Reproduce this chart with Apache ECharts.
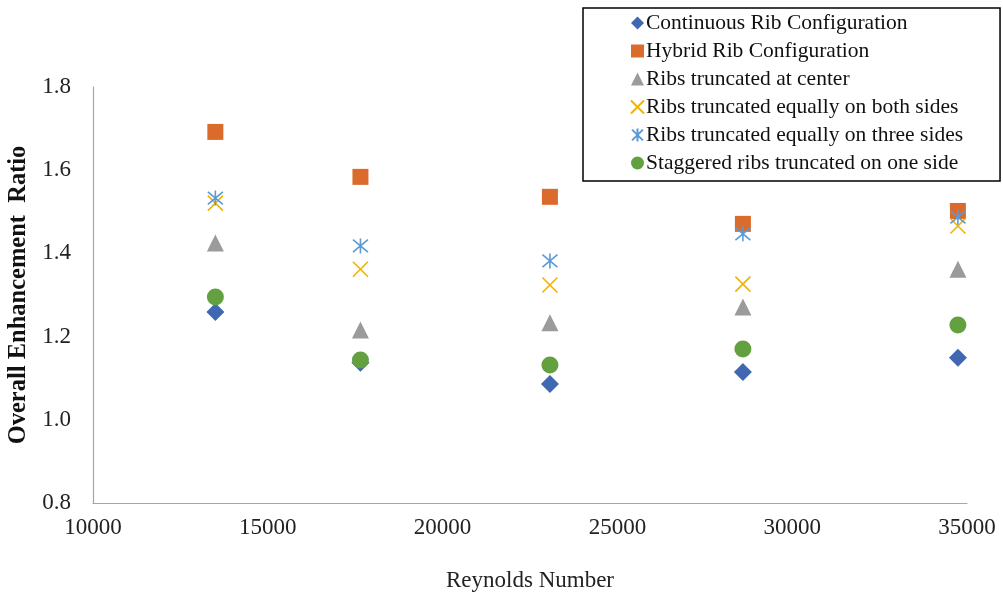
<!DOCTYPE html>
<html><head><meta charset="utf-8">
<script src="https://cdn.jsdelivr.net/npm/echarts@6/dist/echarts.min.js"></script>
<style>html,body{margin:0;padding:0;background:#fff}#c{width:1003px;height:593px}</style>
</head><body><div id="c"></div>
<script>
const reynolds = [13500, 17650, 23070, 28590, 34740];
const continuous = [1.259, 1.137, 1.086, 1.115, 1.149];
const hybrid = [1.692, 1.584, 1.536, 1.471, 1.502];
const truncCenter = [1.425, 1.216, 1.233, 1.271, 1.362];
const truncBoth = [1.521, 1.362, 1.324, 1.326, 1.466];
const truncThree = [1.533, 1.418, 1.382, 1.447, 1.487];
const staggered = [1.295, 1.144, 1.132, 1.170, 1.228];
const seriesNames = ['Continuous Rib Configuration','Hybrid Rib Configuration','Ribs truncated at center','Ribs truncated equally on both sides','Ribs truncated equally on three sides','Staggered ribs truncated on one side'];

const pts = arr => reynolds.map((x,i)=>[x,arr[i]]);
const font = 'Liberation Serif, Times New Roman, serif';
const chart = echarts.init(document.getElementById('c'));
const filled = (name, data, symbol, size, color) => ({
  name, type:'scatter', data: pts(data), symbol, symbolSize: size,
  itemStyle:{color, opacity:1}
});
const stroked = (name, data, symbol, size, color) => ({
  name, type:'scatter', data: pts(data), symbol, symbolSize: size,
  itemStyle:{color:'rgba(0,0,0,0)', borderColor: color, borderWidth:1.6, opacity:1}
});
chart.setOption({
  animation:false,
  grid:{left:93,right:36,top:87,bottom:90,containLabel:false,outerBoundsMode:'none'},
  xAxis:{type:'value',min:10000,max:35000,interval:5000,
    name:'Reynolds Number',nameLocation:'middle',nameGap:66,
    nameTextStyle:{fontFamily:font,fontSize:23,color:'#222'},
    axisLine:{lineStyle:{color:'#a6a6a6',width:1.2}},axisTick:{show:false},splitLine:{show:false},
    axisLabel:{fontFamily:font,fontSize:23,color:'#222',margin:13,formatter:v=>String(v)}},
  yAxis:{type:'value',min:0.8,max:1.8,interval:0.2,
    name:'Overall Enhancement  Ratio',nameLocation:'middle',nameGap:56,
    nameTextStyle:{fontFamily:font,fontSize:24.5,fontWeight:'bold',color:'#111'},
    axisLine:{show:true,lineStyle:{color:'#a6a6a6',width:1.2}},axisTick:{show:false},splitLine:{show:false},
    axisLabel:{fontFamily:font,fontSize:23,color:'#222',margin:22,formatter:v=>v.toFixed(1)}},
  legend:{orient:'vertical',left:583,top:8,padding:[4,37,7,47],itemGap:6,itemWidth:13,itemHeight:13,
    borderColor:'#000',borderWidth:1.5,
    textStyle:{fontFamily:font,fontSize:21.5,color:'#111',lineHeight:22,padding:[0,0,0,-3]},
    data:seriesNames},
  series:[
    filled(seriesNames[0], continuous, 'diamond', 18, '#4068B2'),
    filled(seriesNames[1], hybrid, 'rect', 16, '#DA6B2C'),
    filled(seriesNames[2], truncCenter, 'triangle', 17, '#9B9B9B'),
    stroked(seriesNames[3], truncBoth, 'path://M0,0L10,10M10,0L0,10', 15, '#F2B200'),
    stroked(seriesNames[4], truncThree, 'path://M0,0L10,10M10,0L0,10M5,-1L5,11', 15, '#5B9BD5'),
    filled(seriesNames[5], staggered, 'circle', 17, '#63A03F')
  ]
});
</script></body></html>
